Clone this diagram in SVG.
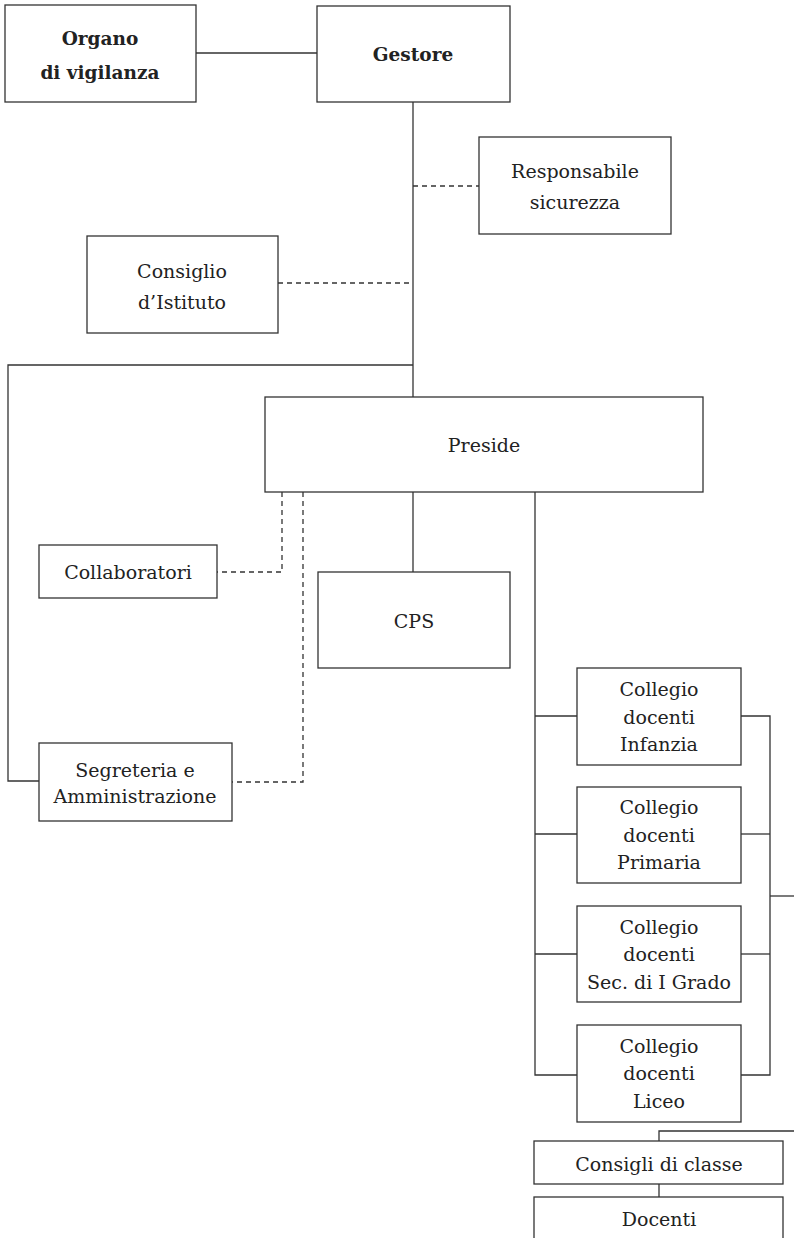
<svg xmlns="http://www.w3.org/2000/svg" width="794" height="1238" viewBox="0 0 794 1238">
<style>
.box{fill:#fff;stroke:#333;stroke-width:1.3}
.ln{fill:none;stroke:#333;stroke-width:1.3}
.dash{fill:none;stroke:#333;stroke-width:1.3;stroke-dasharray:5,4}
text{font-family:"DejaVu Serif","Liberation Serif",serif;font-size:19px;fill:#222;text-anchor:middle}
.b{font-weight:bold;font-size:18.5px}
</style>
<rect width="794" height="1238" fill="#fff"/>
<g id="connectors">
<line class="ln" x1="196" y1="53" x2="317" y2="53"/>
<line class="ln" x1="413" y1="102" x2="413" y2="397"/>
<line class="dash" x1="413" y1="186" x2="479" y2="186"/>
<line class="dash" x1="278" y1="283" x2="413" y2="283"/>
<polyline class="ln" points="413,365 8,365 8,781 39,781"/>
<polyline class="dash" points="282,492 282,572 217,572"/>
<polyline class="dash" points="303,492 303,782 232,782"/>
<line class="ln" x1="413" y1="492" x2="413" y2="572"/>
<polyline class="ln" points="535,492 535,1075 577,1075"/>
<line class="ln" x1="535" y1="716" x2="577" y2="716"/>
<line class="ln" x1="535" y1="834" x2="577" y2="834"/>
<line class="ln" x1="535" y1="954" x2="577" y2="954"/>
<polyline class="ln" points="741,716 770,716 770,1075 741,1075"/>
<line class="ln" x1="741" y1="834" x2="770" y2="834"/>
<line class="ln" x1="741" y1="954" x2="770" y2="954"/>
<line class="ln" x1="770" y1="896" x2="794" y2="896"/>
<polyline class="ln" points="659,1141 659,1131 794,1131"/>
<line class="ln" x1="659" y1="1184" x2="659" y2="1197"/>
</g>
<g id="organo"><rect class="box" x="5" y="5" width="191" height="97"/><text class="b" x="100" y="45">Organo</text><text class="b" x="100" y="79">di vigilanza</text></g>
<g id="gestore"><rect class="box" x="317" y="6" width="193" height="96"/><text class="b" x="413" y="61">Gestore</text></g>
<g id="responsabile"><rect class="box" x="479" y="137" width="192" height="97"/><text x="575" y="178">Responsabile</text><text x="575" y="209">sicurezza</text></g>
<g id="consiglio"><rect class="box" x="87" y="236" width="191" height="97"/><text x="182" y="278">Consiglio</text><text x="182" y="309">d’Istituto</text></g>
<g id="preside"><rect class="box" x="265" y="397" width="438" height="95"/><text x="484" y="452">Preside</text></g>
<g id="collaboratori"><rect class="box" x="39" y="545" width="178" height="53"/><text x="128" y="579">Collaboratori</text></g>
<g id="cps"><rect class="box" x="318" y="572" width="192" height="96"/><text x="414" y="628">CPS</text></g>
<g id="segreteria"><rect class="box" x="39" y="743" width="193" height="78"/><text x="135" y="777">Segreteria e</text><text x="135" y="803">Amministrazione</text></g>
<g id="infanzia"><rect class="box" x="577" y="668" width="164" height="97"/><text x="659" y="696">Collegio</text><text x="659" y="724">docenti</text><text x="659" y="751">Infanzia</text></g>
<g id="primaria"><rect class="box" x="577" y="787" width="164" height="96"/><text x="659" y="814">Collegio</text><text x="659" y="842">docenti</text><text x="659" y="869">Primaria</text></g>
<g id="secondaria"><rect class="box" x="577" y="906" width="164" height="96"/><text x="659" y="934">Collegio</text><text x="659" y="961">docenti</text><text x="659" y="989">Sec. di I Grado</text></g>
<g id="liceo"><rect class="box" x="577" y="1025" width="164" height="97"/><text x="659" y="1053">Collegio</text><text x="659" y="1080">docenti</text><text x="659" y="1108">Liceo</text></g>
<g id="consigli"><rect class="box" x="534" y="1141" width="249" height="43"/><text x="659" y="1171">Consigli di classe</text></g>
<g id="docenti"><rect class="box" x="534" y="1197" width="249" height="60"/><text x="659" y="1226">Docenti</text></g>
</svg>
